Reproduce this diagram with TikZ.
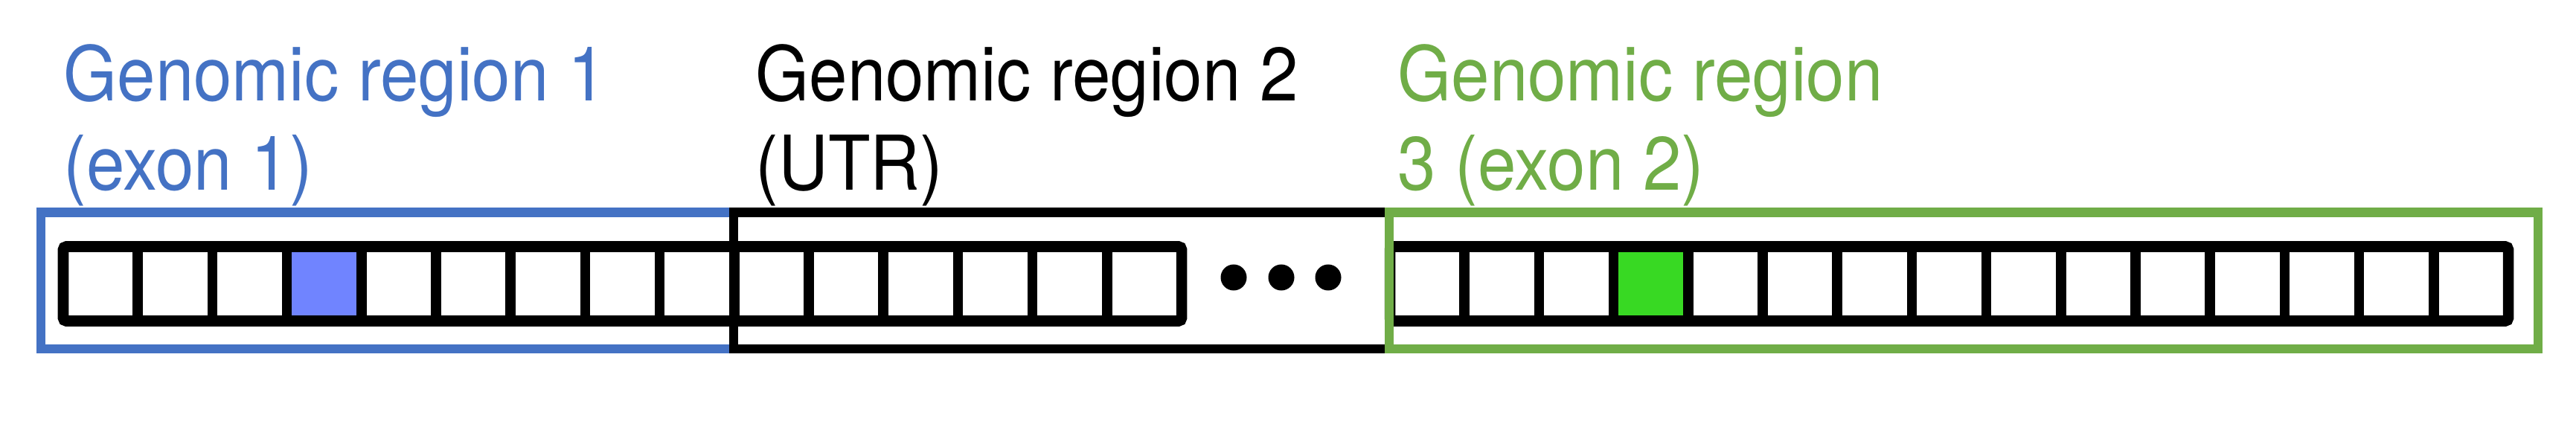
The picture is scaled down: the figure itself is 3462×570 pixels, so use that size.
\documentclass[tikz,border=0pt]{standalone}
\usepackage{fontspec}
\setmainfont{TeX Gyre Heros}[FakeStretch=0.91]
\definecolor{regblue}{HTML}{4472C4}
\definecolor{reggreen}{HTML}{70AD47}
\definecolor{cellblue}{HTML}{7084FF}
\definecolor{cellgreen}{HTML}{38D923}
\begin{document}
\begin{tikzpicture}[x=0.01cm,y=-0.01cm,
  lbl/.style={anchor=base west, inner sep=0pt, font=\fontsize{28.9}{34}\selectfont},
  regbox/.style={line width=0.12cm},
  ribbon/.style={line width=0.145cm, rounded corners=0.04cm},
  divider/.style={line width=0.135cm},
  dotnode/.style={circle, fill=black, minimum size=0.35cm, inner sep=0pt}]
\useasboundingbox (0,0) rectangle (3462,570);
% ribbon 1
\fill[cellblue] (385.6,331.5) rectangle (485.8,431.5);
\foreach \i in {1,...,14} \draw[divider] ({85+\i*100.2},331.5) -- ({85+\i*100.2},431.5);
\draw[ribbon] (85,331.5) rectangle (1588,431.5);
% ribbon 2
\fill[cellgreen] (2168.6,331.5) rectangle (2268.8,431.5);
\foreach \i in {1,...,14} \draw[divider] ({1868+\i*100.2},331.5) -- ({1868+\i*100.2},431.5);
\draw[ribbon] (1868,331.5) rectangle (3371,431.5);
% dots
\node[dotnode] (d1) at (1658,373) {};
\node[dotnode] (d2) at (1722,373) {};
\node[dotnode] (d3) at (1785,373) {};
% region boxes
\draw[regbox, regblue] (55,285.5) rectangle (986,469);
\draw[regbox, black] (986,285.5) rectangle (1867,469);
\draw[regbox, reggreen] (1867,285.5) rectangle (3411,469);
% labels
\node[lbl, text=regblue] (t1a) at (85,136) {Genomic region 1};
\node[lbl, text=regblue] (t1b) at (85,256) {(exon 1)};
\node[lbl] (t2a) at (1015,136) {Genomic region 2};
\node[lbl] (t2b) at (1015,256) {(UTR)};
\node[lbl, text=reggreen] (t3a) at (1878,136) {Genomic region};
\node[lbl, text=reggreen] (t3b) at (1878,256) {3 (exon 2)};
\end{tikzpicture}
\end{document}
